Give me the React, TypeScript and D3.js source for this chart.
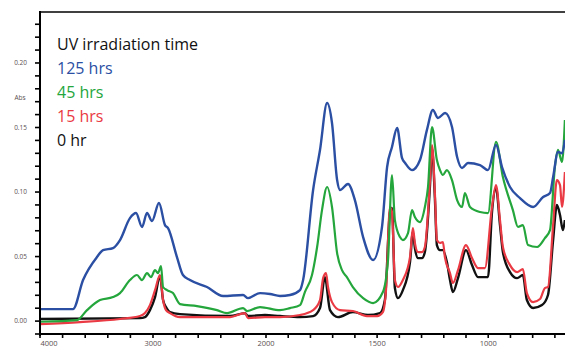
import { useEffect, useRef } from "react";
import * as d3 from "d3";

// [wavenumber cm-1, absorbance]
const hrs125 = [
  [4000, 0.0093], [3708, 0.0093], [3619, 0.0318], [3496, 0.0496], [3442, 0.055],
  [3354, 0.0566], [3292, 0.0628], [3204, 0.0798], [3150, 0.0837], [3097, 0.0729],
  [3053, 0.0837], [3009, 0.0775], [2947, 0.0915], [2894, 0.0744], [2867, 0.072],
  [2788, 0.0496], [2735, 0.0357], [2673, 0.0318], [2522, 0.0264], [2380, 0.0194],
  [2203, 0.0202], [2159, 0.0178], [2053, 0.0217], [1982, 0.021], [1937, 0.0194],
  [1892, 0.0202], [1847, 0.024], [1833, 0.0318], [1788, 0.1016], [1757, 0.1326],
  [1725, 0.169], [1703, 0.1535], [1680, 0.1093], [1667, 0.1016], [1631, 0.1062],
  [1600, 0.0938], [1563, 0.0651], [1518, 0.0473], [1478, 0.0729], [1455, 0.1194],
  [1433, 0.1349], [1410, 0.1496], [1388, 0.1264], [1374, 0.1225], [1343, 0.117],
  [1307, 0.1248], [1276, 0.148], [1249, 0.1636], [1226, 0.1574], [1194, 0.1612],
  [1163, 0.1504], [1140, 0.1271], [1118, 0.1186], [1091, 0.1225], [1037, 0.1209],
  [1001, 0.117], [965, 0.1364], [938, 0.1194], [902, 0.1039], [857, 0.0953],
  [798, 0.0884], [753, 0.0961], [722, 0.0992], [708, 0.1116], [686, 0.131],
  [668, 0.13], [655, 0.1403],
];

const hrs45 = [
  [4000, -0.0005], [3673, 0.0008], [3584, 0.0085], [3469, 0.0163], [3354, 0.0186],
  [3292, 0.0217], [3204, 0.0318], [3142, 0.0357], [3097, 0.0318], [3053, 0.0372],
  [3018, 0.0341], [2982, 0.0395], [2956, 0.0372], [2929, 0.0426], [2911, 0.0264],
  [2876, 0.024], [2823, 0.0217], [2761, 0.0132], [2611, 0.0116], [2434, 0.0085],
  [2345, 0.0062], [2203, 0.0101], [2168, 0.0078], [2053, 0.0109], [1937, 0.0085],
  [1892, 0.0101], [1847, 0.0124], [1825, 0.0225], [1793, 0.0357], [1770, 0.0574],
  [1748, 0.086], [1725, 0.1039], [1703, 0.0884], [1680, 0.0527], [1658, 0.0395],
  [1636, 0.0341], [1609, 0.0264], [1563, 0.0178], [1518, 0.014], [1474, 0.0225],
  [1451, 0.0473], [1433, 0.1132], [1420, 0.0783], [1397, 0.0651], [1384, 0.0628],
  [1361, 0.0682], [1343, 0.086], [1330, 0.0806], [1307, 0.0767], [1285, 0.0884],
  [1271, 0.1039], [1253, 0.1504], [1231, 0.1248], [1217, 0.117], [1204, 0.1132],
  [1186, 0.117], [1163, 0.1093], [1140, 0.0938], [1118, 0.0884], [1105, 0.0992],
  [1082, 0.0884], [1037, 0.0845], [1001, 0.0837], [965, 0.1388], [934, 0.1116],
  [889, 0.086], [866, 0.0729], [844, 0.0744], [821, 0.0589], [780, 0.0574],
  [745, 0.0643], [722, 0.0705], [700, 0.1194], [686, 0.1326], [668, 0.1233],
  [655, 0.1558],
];

const hrs15 = [
  [4000, -0.0023], [3646, -0.0008], [3292, 0.0016], [3115, 0.0039], [3071, 0.0062],
  [3027, 0.0124], [2982, 0.024], [2938, 0.0357], [2911, 0.0163], [2885, 0.0085],
  [2850, 0.0062], [2761, 0.0031], [2318, 0.0031], [2186, 0.0062], [2159, 0.0023],
  [2009, 0.0031], [1937, 0.0031], [1847, 0.0047], [1788, 0.0085], [1757, 0.0163],
  [1743, 0.0333], [1730, 0.0372], [1721, 0.0264], [1703, 0.0147], [1667, 0.0085],
  [1609, 0.0078], [1546, 0.0039], [1500, 0.0039], [1474, 0.007], [1460, 0.024],
  [1442, 0.0884], [1433, 0.0845], [1420, 0.0318], [1406, 0.0264], [1384, 0.0318],
  [1352, 0.0496], [1339, 0.0721], [1330, 0.0605], [1316, 0.0535], [1298, 0.0535],
  [1285, 0.0574], [1262, 0.1093], [1253, 0.1364], [1240, 0.0992], [1231, 0.0628],
  [1217, 0.0605], [1204, 0.0612], [1195, 0.0496], [1172, 0.0372], [1159, 0.0295],
  [1136, 0.0395], [1100, 0.0589], [1073, 0.0488], [1046, 0.0411], [1015, 0.0411],
  [983, 0.0884], [965, 0.1054], [947, 0.0783], [934, 0.0574], [902, 0.0434],
  [870, 0.038], [844, 0.0403], [826, 0.0217], [798, 0.0147], [767, 0.0171],
  [745, 0.0256], [731, 0.0264], [708, 0.0744], [691, 0.1093], [677, 0.1054],
  [668, 0.0884], [655, 0.1155],
];

const hrs0 = [
  [4000, 0.0016], [3115, 0.0023], [3071, 0.0031], [3027, 0.0085], [2982, 0.0186],
  [2938, 0.0349], [2911, 0.0163], [2885, 0.0109], [2850, 0.007], [2761, 0.0054],
  [2318, 0.0039], [2186, 0.0062], [2159, 0.0039], [2009, 0.0047], [1937, 0.0039],
  [1847, 0.0031], [1788, 0.0039], [1757, 0.0101], [1735, 0.0341], [1712, 0.0085],
  [1676, 0.0031], [1609, 0.007], [1541, 0.0047], [1487, 0.0062], [1465, 0.0163],
  [1442, 0.0845], [1433, 0.0876], [1420, 0.0256], [1406, 0.0178], [1384, 0.024],
  [1352, 0.0457], [1339, 0.069], [1330, 0.0566], [1316, 0.0488], [1298, 0.0488],
  [1285, 0.0535], [1262, 0.1054], [1253, 0.1341], [1240, 0.0953], [1231, 0.0589],
  [1217, 0.055], [1204, 0.055], [1186, 0.0457], [1172, 0.0318], [1159, 0.0225],
  [1136, 0.0333], [1100, 0.055], [1073, 0.0434], [1046, 0.0341], [1001, 0.0341],
  [983, 0.0845], [965, 0.1031], [947, 0.0744], [934, 0.0535], [902, 0.038],
  [870, 0.0333], [844, 0.0357], [826, 0.0163], [798, 0.0101], [758, 0.0124],
  [731, 0.0202], [708, 0.0628], [691, 0.0899], [677, 0.0822], [664, 0.0705],
  [655, 0.0783],
];

const legendTitle = "UV irradiation time";
const seriesNames = ["125 hrs", "45 hrs", "15 hrs", "0 hr"];
const yTickValues = [0, 0.05, 0.1, 0.15, 0.2];
const xTickLabels = [4000, 3000, 2000, 1500, 1000];

export default function App() {
  const ref = useRef(null);

  useEffect(() => {
    const container = d3.select(ref.current);
    container.selectAll("*").remove();

    const width = 565;
    const height = 348;
    const left = 40;
    const top = 12;
    const bottom = 334;

    const svg = container
      .append("svg")
      .attr("width", width)
      .attr("height", height)
      .style("position", "absolute")
      .style("left", "0px")
      .style("top", "0px")
      .style("background", "#fff");

    // FTIR style axis: scale changes at 2000 cm-1
    const x = d3.scaleLinear().domain([4000, 2000, 650]).range([left, 266, 566]);
    const y = d3.scaleLinear().domain([-0.01, 0.2395]).range([bottom, top]);

    const path = d3
      .line()
      .x((d) => x(d[0]))
      .y((d) => y(d[1]))
      .curve(d3.curveMonotoneX);

    const plot = svg.append("g");
    const series = [
      { data: hrs0, color: "#111111", w: 2.4 },
      { data: hrs15, color: "#ea3a43", w: 2.2 },
      { data: hrs45, color: "#25a63c", w: 2.2 },
      { data: hrs125, color: "#2b4fa3", w: 2.4 },
    ];
    series.forEach((s) => {
      plot
        .append("path")
        .datum(s.data)
        .attr("fill", "none")
        .attr("stroke", s.color)
        .attr("stroke-width", s.w)
        .attr("stroke-linejoin", "round")
        .attr("d", path);
    });

    // left axis
    const yMinor = d3.range(-0.01, 0.236, 0.01);
    const yAxis = svg.append("g").attr("transform", `translate(${left},0)`);
    yAxis
      .append("line")
      .attr("x1", 0)
      .attr("x2", 0)
      .attr("y1", top - 1)
      .attr("y2", bottom + 2)
      .attr("stroke", "#000")
      .attr("stroke-width", 2);
    yAxis
      .selectAll("line.tick")
      .data(yMinor)
      .join("line")
      .attr("class", "tick")
      .attr("x1", -5)
      .attr("x2", 0)
      .attr("y1", (d) => y(d))
      .attr("y2", (d) => y(d))
      .attr("stroke", "#000")
      .attr("stroke-width", 1.6);
    yAxis
      .selectAll("text")
      .data(yTickValues)
      .join("text")
      .attr("x", -13)
      .attr("y", (d) => y(d) + 2.2)
      .attr("text-anchor", "end")
      .attr("fill", "#5a4f4f")
      .style("font-family", "Open Sans, sans-serif")
      .style("font-size", "6.5px")
      .text((d) => d3.format(".2f")(d));
    svg
      .append("text")
      .attr("x", 20)
      .attr("y", 100)
      .attr("text-anchor", "middle")
      .attr("fill", "#5a4f4f")
      .style("font-family", "Open Sans, sans-serif")
      .style("font-size", "6.5px")
      .text("Abs");

    // top border
    svg
      .append("line")
      .attr("x1", left)
      .attr("x2", width)
      .attr("y1", top)
      .attr("y2", top)
      .attr("stroke", "#000")
      .attr("stroke-width", 1.5);

    // bottom axis
    const xMinor = d3.range(4000, 2000, -200).concat(d3.range(2000, 640, -100));
    const xAxis = svg.append("g").attr("transform", `translate(0,${bottom})`);
    xAxis
      .append("line")
      .attr("x1", left)
      .attr("x2", width)
      .attr("y1", 0)
      .attr("y2", 0)
      .attr("stroke", "#000")
      .attr("stroke-width", 2);
    xAxis
      .selectAll("line.tick")
      .data(xMinor)
      .join("line")
      .attr("class", "tick")
      .attr("x1", (d) => x(d))
      .attr("x2", (d) => x(d))
      .attr("y1", 0)
      .attr("y2", 4)
      .attr("stroke", "#000")
      .attr("stroke-width", 1.6);
    xAxis
      .selectAll("text")
      .data(xTickLabels)
      .join("text")
      .attr("x", (d) => Math.max(x(d), 49))
      .attr("y", 12)
      .attr("text-anchor", "middle")
      .attr("fill", "#5a4f4f")
      .style("font-family", "Open Sans, sans-serif")
      .style("font-size", "7.5px")
      .text((d) => d);

    // legend
    const legendColors = ["#2b4fa3", "#25a63c", "#ea3a43", "#111111"];
    const legend = svg
      .append("g")
      .style("font-family", "Open Sans, sans-serif")
      .style("font-size", "16px");
    legend.append("text").attr("x", 57).attr("y", 50).attr("fill", "#111").text(legendTitle);
    seriesNames.forEach((n, i) => {
      legend
        .append("text")
        .attr("x", 57)
        .attr("y", 74 + i * 24)
        .attr("fill", legendColors[i])
        .text(n);
    });
  }, []);

  return <div ref={ref} />;
}
